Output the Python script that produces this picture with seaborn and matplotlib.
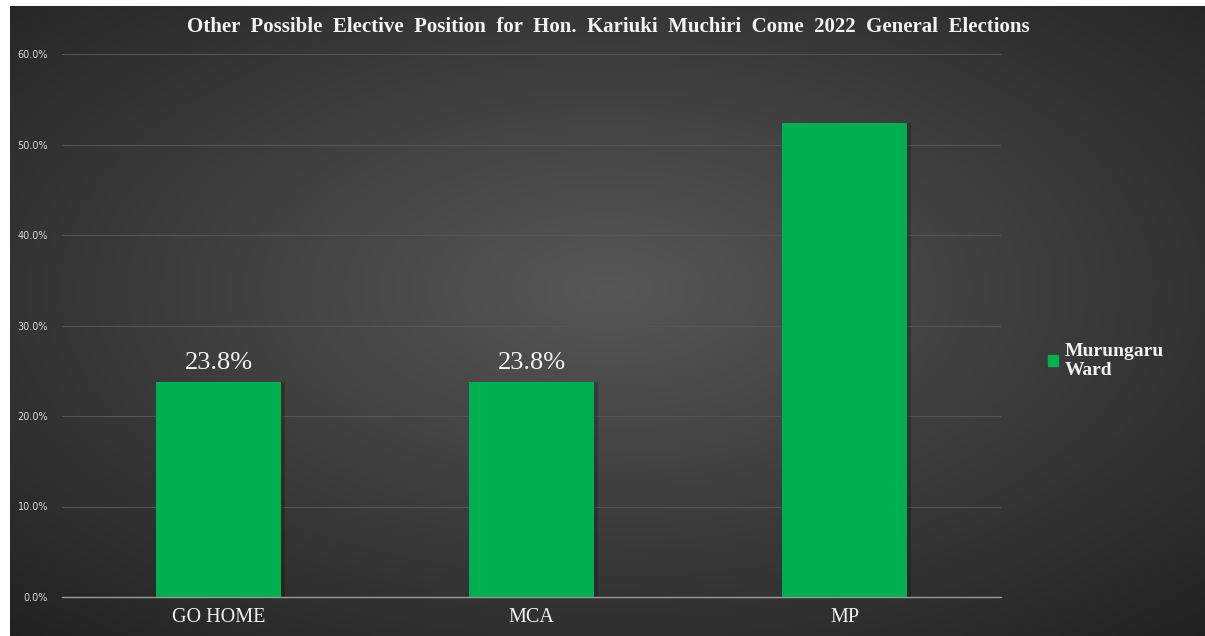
import numpy as np
import pandas as pd
import matplotlib
matplotlib.use("Agg")
import matplotlib.pyplot as plt
import seaborn as sns
from matplotlib.patches import Patch
from matplotlib.ticker import PercentFormatter

# chart data
categories = ["GO HOME", "MCA", "MP"]
values = [0.238, 0.238, 0.524]
bar_labels = ["23.8%", "23.8%", ""]
series_name = "Murungaru\nWard"
title = "Other Possible Elective Position for Hon. Kariuki Muchiri Come 2022 General Elections"

df = pd.DataFrame({"position": categories, "share": values})

sns.set_theme(style="dark")
plt.rcParams["font.family"] = ["DejaVu Sans"]

W, H = 1205, 636
fig = plt.figure(figsize=(W / 100, H / 100), dpi=100)
fig.patch.set_facecolor("white")

# radial gradient background
bg = fig.add_axes([10 / W, 0, 1 - 10 / W, 1 - 6 / H])
yy, xx = np.mgrid[0:1:300j, 0:1:600j]
r = np.sqrt(((xx - 0.5) / 0.75) ** 2 + ((yy - 0.45) / 0.75) ** 2)
shade = 0.34 - 0.21 * np.clip(r, 0, 1)
bg.imshow(np.dstack([shade] * 3), aspect="auto", extent=[0, 1, 1, 0])
bg.set_axis_off()

ax = fig.add_axes([62 / W, 39 / H, 939 / W, 543 / H])
ax.patch.set_alpha(0)

# faint shadow on the right side of bars
for i, v in enumerate(values):
    ax.bar(i + 0.012, v, width=0.4, color="black", alpha=0.22, linewidth=0, zorder=2)

sns.barplot(data=df, x="position", y="share", color="#00B050", width=0.4,
            saturation=1, linewidth=0, ax=ax, zorder=3)

for i, (v, lab) in enumerate(zip(values, bar_labels)):
    if lab:
        ax.text(i, v + 0.008, lab, ha="center", va="bottom", color="#f2f2f2",
                fontsize=19, family="Liberation Serif", zorder=4)

ax.set_ylim(0, 0.6)
ax.set_xlim(-0.5, 2.5)
ax.set_yticks(np.arange(0, 0.61, 0.1))
ax.yaxis.set_major_formatter(PercentFormatter(1.0, decimals=1))
ax.grid(axis="y", color="#555555", linewidth=0.8, zorder=0)
ax.grid(axis="x", visible=False)
ax.set_axisbelow(True)
for s in ["top", "right", "left"]:
    ax.spines[s].set_visible(False)
ax.spines["bottom"].set_color("#9a9a9a")
ax.spines["bottom"].set_linewidth(1)
ax.set_xlabel("")
ax.set_ylabel("")
ax.tick_params(axis="y", colors="#d9d9d9", labelsize=7, length=0, pad=10)
ax.tick_params(axis="x", colors="#f2f2f2", length=0, pad=8)
for t in ax.get_xticklabels():
    t.set_fontfamily("Liberation Serif")
    t.set_fontsize(14.5)

fig.text(608 / W, 1 - 27 / H, title.replace(" ", "  "), ha="center", va="center",
         color="#f2f2f2", fontsize=15, fontweight="bold", family="Liberation Serif")

leg = fig.legend(handles=[Patch(color="#00B050", label=series_name)],
                 loc="center left", bbox_to_anchor=(1030 / W, 1 - 361 / H),
                 frameon=False, handlelength=0.55, handleheight=0.55,
                 handletextpad=0.35, labelspacing=0.2,
                 prop={"family": "Liberation Serif", "size": 14, "weight": "bold"})
for t in leg.get_texts():
    t.set_color("#f2f2f2")
    t.set_linespacing(1.15)

fig.savefig("out.png", dpi=100, facecolor=fig.get_facecolor())
